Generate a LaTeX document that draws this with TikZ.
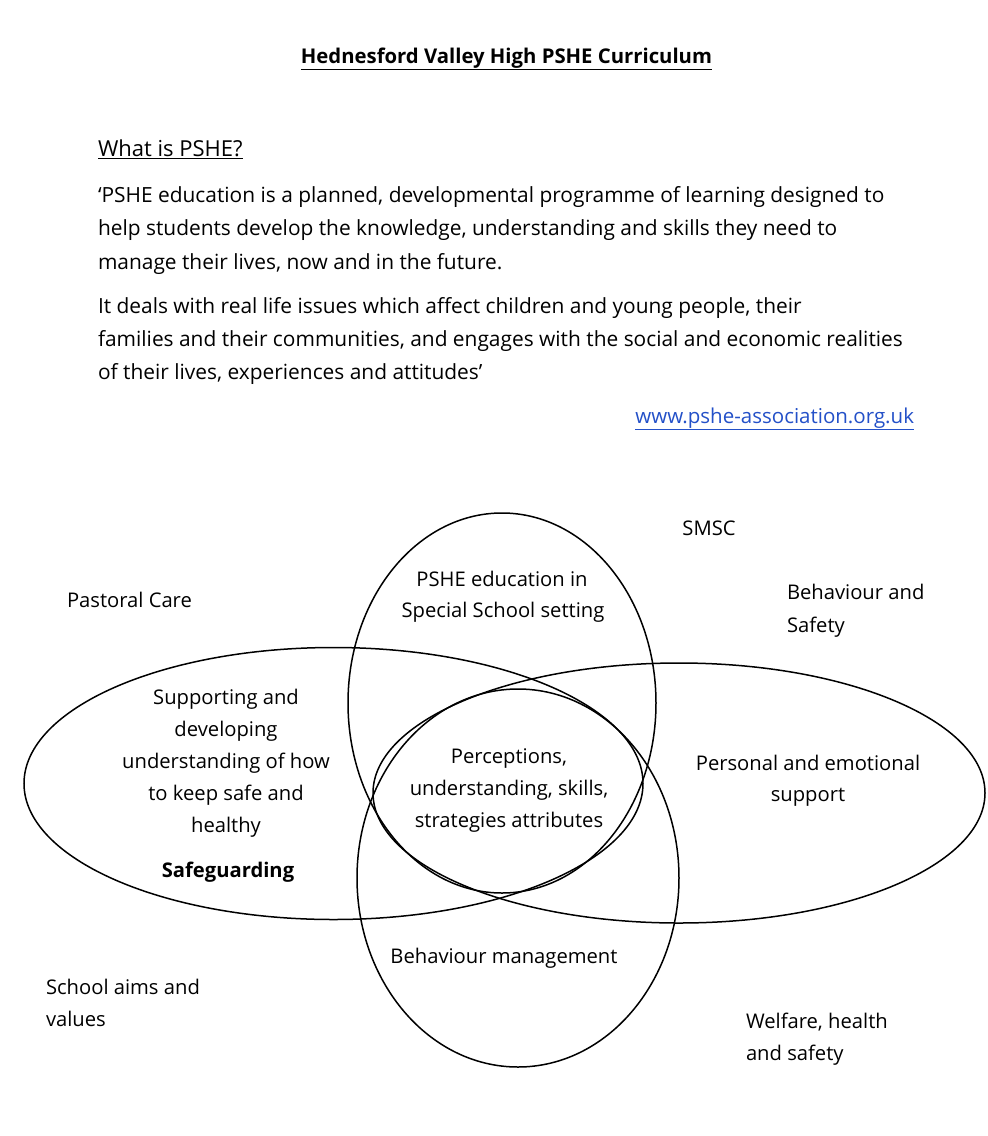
\documentclass[tikz,border=0pt]{standalone}
\usepackage{fontspec}
\setmainfont{Open Sans}
\definecolor{linkblue}{RGB}{35,80,200}
\tikzset{
  txt/.style={inner sep=0pt, outer sep=0pt, font=\fontsize{20.2}{24}\selectfont},
  body/.style={inner sep=0pt, outer sep=0pt, anchor=base west, font=\fontsize{20.9}{24}\selectfont},
  lft/.style={txt, anchor=base west},
  ctr/.style={txt, anchor=base},
  venn/.style={draw=black, line width=1.5pt}
}
\begin{document}
\begin{tikzpicture}[x=1pt,y=-1pt]
\useasboundingbox (0,0) rectangle (988,1136);
\fill[white] (0,0) rectangle (988,1136);
% header
\node[ctr, font=\bfseries\fontsize{20.3}{24}\selectfont] (title) at (506.5,63) {\underline{Hednesford Valley High PSHE Curriculum}};
\node[body, font=\fontsize{22}{24}\selectfont] (what) at (98,156) {\underline{What is PSHE?}};
\node[body] (p1a) at (98,202) {‘PSHE education is a planned, developmental programme of learning designed to};
\node[body] (p1b) at (98,235) {help students develop the knowledge, understanding and skills they need to};
\node[body] (p1c) at (98,269) {manage their lives, now and in the future.};
\node[body] (p2a) at (98,313) {It deals with real life issues which affect children and young people, their};
\node[body] (p2b) at (98,346) {families and their communities, and engages with the social and economic realities};
\node[body] (p2c) at (98,379) {of their lives, experiences and attitudes’};
\node[txt, anchor=base east, text=linkblue, font=\fontsize{20.5}{24}\selectfont] (url) at (914,423) {\underline{www.pshe-association.org.uk}};
% venn ellipses
\draw[venn] (502,703) ellipse [x radius=154pt, y radius=190pt];
\draw[venn] (518,878) ellipse [x radius=161pt, y radius=189pt];
\draw[venn] (333.5,783.5) ellipse [x radius=309.5pt, y radius=136pt];
\draw[venn] (679,793) ellipse [x radius=306pt, y radius=130pt];
% labels
\node[ctr] (smsc) at (709,535) {SMSC};
\node[lft] (past) at (67,607) {Pastoral Care};
\node[ctr] (pshe1) at (502,586) {PSHE education in};
\node[ctr] (pshe2) at (503,617) {Special School setting};
\node[lft] (beh1) at (787,599) {Behaviour and};
\node[lft] (beh2) at (787,632) {Safety};
\node[ctr] (sup1) at (226,704) {Supporting and};
\node[ctr] (sup2) at (226,736) {developing};
\node[ctr] (sup3) at (226,768) {understanding of how};
\node[ctr] (sup4) at (226,800) {to keep safe and};
\node[ctr] (sup5) at (226,832) {healthy};
\node[ctr, font=\bfseries\fontsize{20.2}{24}\selectfont] (safe) at (228,877) {Safeguarding};
\node[ctr] (per1) at (509,763) {Perceptions,};
\node[ctr] (per2) at (509,795) {understanding, skills,};
\node[ctr] (per3) at (509,827) {strategies attributes};
\node[ctr] (pers1) at (808,770) {Personal and emotional};
\node[ctr] (pers2) at (808,801) {support};
\node[ctr] (bm) at (504,963) {Behaviour management};
\node[lft] (sch1) at (46,994) {School aims and};
\node[lft] (sch2) at (46,1026) {values};
\node[lft] (wel1) at (746,1028) {Welfare, health};
\node[lft] (wel2) at (746,1060) {and safety};
\end{tikzpicture}
\end{document}
